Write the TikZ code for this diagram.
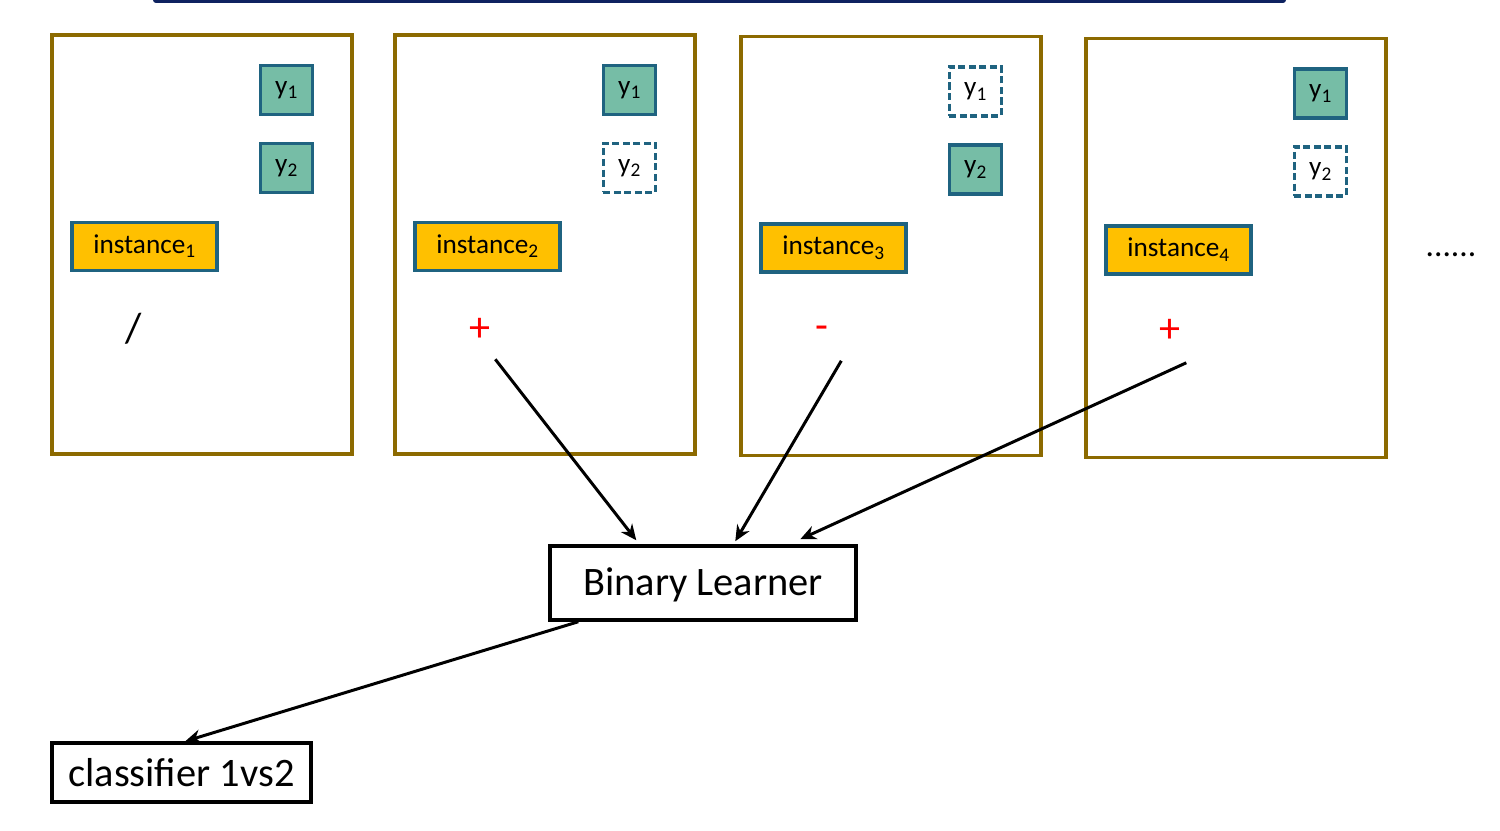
\documentclass[tikz,border=0pt]{standalone}
\usepackage{fontspec}
\setmainfont{Carlito}
\usetikzlibrary{calc}
\usetikzlibrary{arrows.meta}
\definecolor{panelgold}{RGB}{140,106,0}
\definecolor{labteal}{RGB}{31,99,128}
\definecolor{labgreen}{RGB}{118,189,166}
\definecolor{instorange}{RGB}{255,192,0}
\definecolor{topnavy}{RGB}{14,34,96}
\newcommand{\lowsub}[1]{\raisebox{-0.35ex}{\fontsize{11}{12}\selectfont #1}}
\tikzset{panel/.style={draw=panelgold, line width=2pt, minimum width=6.0cm, minimum height=8.38cm, inner sep=0pt}}
\tikzset{yfull/.style={draw=labteal, fill=labgreen, line width=2pt, minimum width=1.04cm, minimum height=0.98cm, inner sep=0pt, font=\fontsize{15.5}{18}\selectfont}}
\tikzset{yempty/.style={yfull, fill=white, dashed, dash pattern=on 4pt off 2pt}}
\tikzset{instbox/.style={draw=labteal, fill=instorange, line width=2pt, minimum width=2.9cm, minimum height=0.96cm, inner sep=0pt, font=\fontsize{15.5}{18}\selectfont}}
\tikzset{learnbox/.style={draw, line width=2pt, inner sep=0pt, font=\fontsize{23}{27}\selectfont}}
\tikzset{feed/.style={line width=1.7pt, -{Stealth[length=9pt, width=8pt]}}}

\begin{document}
\begin{tikzpicture}[x=0.02cm,y=-0.02cm]
  \useasboundingbox (0,0) rectangle (1500,831);
  \draw[topnavy, line width=3.4pt, line cap=round] (156,0) -- (1283,0);
  \foreach \i/\x/\y/\fa/\fb/\sgn/\sc/\sx/\sy in {
    1/202/244.5/yfull/yfull/\slash/black/83/295,
    2/545/244.5/yfull/yempty/+/red/87/297,
    3/891/246/yempty/yfull/-/red/83/298,
    4/1236/248/yfull/yempty/+/red/86/294%
  } {
    \node[panel] (p\i) at (\x, \y) {};
    \node[\fa] (ya\i) at ($(p\i.north west)+(236,56.5)$) {y\lowsub{1}};
    \node[\fb] (yb\i) at ($(p\i.north west)+(236,134.5)$) {y\lowsub{2}};
    \node[instbox] (inst\i) at ($(p\i.north west)+(94,213)$) {instance\lowsub{\i}};
    \node[text=\sc, font=\fontsize{24}{28}\selectfont] (sign\i) at ($(p\i.north west)+(\sx,\sy)$) {\sgn};
    \coordinate (s\i) at ($(p\i.north west)+(102,326)$);
  }
  \node[font=\fontsize{19}{22}\selectfont] (more) at (1451,255) {......};
  \node[learnbox, text height=17pt, text depth=3.2pt, minimum width=6.12cm, minimum height=1.48cm] (bl) at (703,583) {Binary Learner};
  \node[learnbox, minimum width=5.18cm, minimum height=1.18cm] (cl) at (181.5,772.5) {classifier 1vs2};
  \draw[feed] (s2) -- ($(bl.north west)+(88,-4)$);
  \draw[feed] (s3) -- ($(bl.north west)+(187,-3)$);
  \draw[feed] (s4) -- ($(bl.north west)+(252,-5)$);
  \draw[feed] ($(bl.south west)+(30,0)$) -- ($(cl.north west)+(135,0)$);
\end{tikzpicture}
\end{document}
